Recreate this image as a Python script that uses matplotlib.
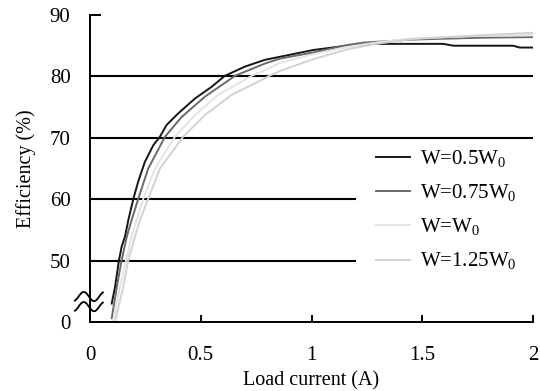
import matplotlib
matplotlib.use("Agg")
import matplotlib.pyplot as plt
import numpy

# load current (A) and efficiency (%) for each width; the axis is broken below 50,
# values under 50 sit on a compressed 40..50 strip labelled "0"
cur_05 = [0.098, 0.113, 0.131, 0.143, 0.158, 0.173, 0.196, 0.218, 0.248, 0.286, 0.316, 0.346,
          0.399, 0.474, 0.549, 0.609, 0.700, 0.790, 0.858, 1.008, 1.159, 1.264, 1.595, 1.64, 1.91, 1.94, 2.0]
eff_05 = [43.0, 45.7, 50.1, 52.3, 53.9, 56.6, 60.1, 62.9, 66.1, 68.8, 70.2, 72.1,
          74.0, 76.4, 78.3, 80.1, 81.6, 82.7, 83.2, 84.3, 85.0, 85.3, 85.3, 85.0, 85.0, 84.7, 84.7]

cur_075 = [0.098, 0.121, 0.143, 0.166, 0.188, 0.218, 0.263, 0.339, 0.414, 0.519, 0.655, 0.790,
           0.858, 1.008, 1.159, 1.234, 1.459, 1.76, 2.0]
eff_075 = [40.6, 45.7, 50.1, 53.9, 56.6, 60.1, 65.0, 70.2, 73.4, 76.7, 80.1, 82.1,
           82.9, 83.9, 85.1, 85.5, 86.0, 86.3, 86.4]

cur_1 = [0.105, 0.135, 0.163, 0.188, 0.211, 0.241, 0.293, 0.384, 0.474, 0.579, 0.730, 0.790,
         0.858, 1.008, 1.159, 1.31, 1.46, 1.76, 2.0]
eff_1 = [40.3, 45.7, 50.1, 53.9, 56.6, 60.1, 65.0, 70.2, 73.7, 77.0, 80.1, 81.0,
         82.2, 83.6, 84.8, 85.6, 86.2, 86.6, 86.7]

cur_125 = [0.113, 0.150, 0.173, 0.203, 0.226, 0.263, 0.316, 0.421, 0.519, 0.640, 0.790, 0.81,
           0.858, 1.008, 1.159, 1.31, 1.46, 1.76, 2.0]
eff_125 = [40.05, 45.7, 50.1, 53.9, 56.6, 60.1, 65.0, 70.2, 73.7, 77.0, 79.7, 80.1,
           80.9, 82.8, 84.4, 85.4, 86.1, 86.7, 87.1]

labels = ["W=0.5W$_0$", "W=0.75W$_0$", "W=W$_0$", "W=1.25W$_0$"]
colors = ["#151515", "#6a6a6a", "#e4e4e4", "#d2d2d2"]

ytick_pos = [40, 50, 60, 70, 80, 90]
ytick_lab = ["0", "50", "60", "70", "80", "90"]
xtick_pos = [0, 0.5, 1, 1.5, 2]
xtick_lab = ["0", "0.5", "1", "1.5", "2"]

plt.rcParams["font.family"] = ["Liberation Serif", "DejaVu Serif"]
plt.rcParams["mathtext.fontset"] = "custom"
plt.rcParams["mathtext.rm"] = "Liberation Serif"

fig = plt.figure(figsize=(5.4, 3.91), dpi=100)
ax = fig.add_axes([90/540, 69/391, 443/540, 307/391])

# grid lines: the lower two stop short of the legend
ax.hlines([80, 70], 0, 2, color="black", lw=1.5, zorder=1)
ax.hlines([60, 50], 0, 1.2, color="black", lw=1.5, zorder=1)

series = [(cur_05, eff_05), (cur_075, eff_075), (cur_1, eff_1), (cur_125, eff_125)]
for (x, y), c, lab in zip(series, colors, labels):
    ax.plot(x, y, color=c, lw=1.4, label=lab, zorder=2)

ax.set_xlim(0, 2)
ax.set_ylim(40, 90)
ax.set_xticks(xtick_pos)
ax.set_xticklabels(xtick_lab)
ax.set_yticks(ytick_pos)
ax.set_yticklabels(ytick_lab)
ax.tick_params(axis="both", direction="in", labelsize=15)
ax.tick_params(axis="y", length=8, width=1.4, pad=14)
ax.tick_params(axis="x", length=5, width=1.4, pad=17)
for s in ["top", "right"]:
    ax.spines[s].set_visible(False)
for s in ["left", "bottom"]:
    ax.spines[s].set_linewidth(1.4)

ax.set_xlabel("Load current (A)", fontsize=14.5, labelpad=5)
ax.set_ylabel("Efficiency (%)", fontsize=14.5, labelpad=10)

# axis break mark: two small waves across the y axis
t = numpy.linspace(-0.35 * numpy.pi, 2.35 * numpy.pi, 60)
wx = -0.034 + (t - t[0]) / (t[-1] - t[0]) * 0.063
for yc in [0.083, 0.050]:
    ax.plot(wx, yc + 0.015 * numpy.sin(t), color="black", lw=1.3,
            transform=ax.transAxes, clip_on=False, zorder=3)

ax.legend(frameon=False, fontsize=15, loc="upper left",
          bbox_to_anchor=(0.6456, 0.565), borderpad=0, borderaxespad=0,
          handlelength=1.65, handletextpad=0.45, labelspacing=0.6)

fig.savefig("out.png", dpi=100)
